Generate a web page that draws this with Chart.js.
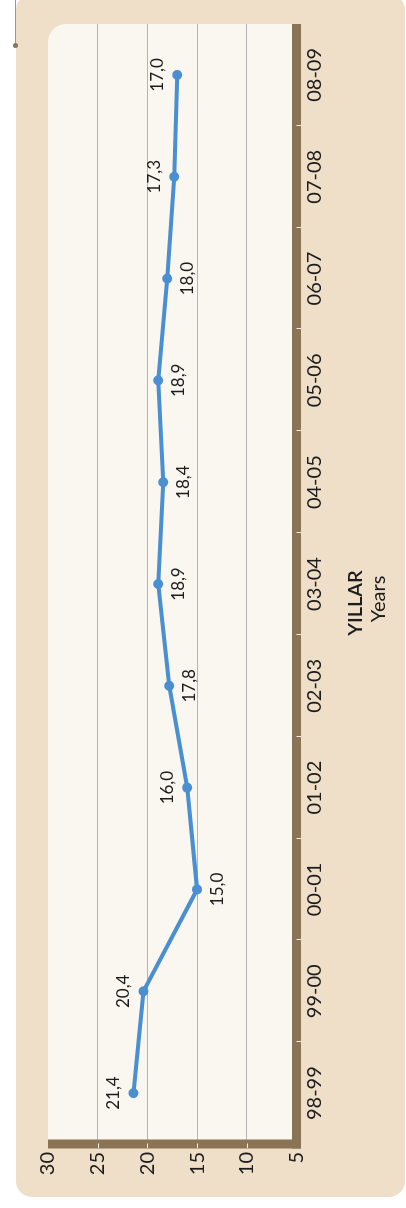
<!DOCTYPE html>
<html>
<head>
<meta charset="utf-8">
<script src="https://cdn.jsdelivr.net/npm/chart.js@4.4.1/dist/chart.umd.min.js"></script>
<style>
  html, body { margin: 0; padding: 0; background: #fff; width: 406px; height: 1208px; overflow: hidden; }
  #panel { position: absolute; left: 16px; top: -6px; width: 389px; height: 1203px; border-radius: 16px; background: #efdfc9; }
  #pin { position: absolute; left: 15px; top: 0; width: 1px; height: 45px; background: #9a9a9a; }
  #pinDot { position: absolute; left: 13px; top: 43px; width: 5px; height: 5px; border-radius: 50%; background: #8b7355; }
  /* chart is drawn landscape then turned a quarter counter-clockwise */
  #rot { position: absolute; left: 0; top: 0; width: 1208px; height: 406px; transform-origin: 0 0; transform: translate(0, 1208px) rotate(-90deg); }
</style>
</head>
<body>
<div id="panel"></div>
<div id="pin"></div>
<div id="pinDot"></div>
<div id="rot"><canvas id="chart" width="1208" height="406"></canvas></div>

<script>
// Data
const years = ['98-99', '99-00', '00-01', '01-02', '02-03', '03-04', '04-05', '05-06', '06-07', '07-08', '08-09'];
const ratios = [21.4, 20.4, 15.0, 16.0, 17.8, 18.9, 18.4, 18.9, 18.0, 17.3, 17.0];
const valueMin = 5;
const valueMax = 30;
const valueStep = 5;

// which side of the line each value label sits on
const labelAbove = [true, true, false, true, false, false, false, false, false, true, true];

const FONT = "Lato, 'Open Sans', sans-serif";
const BROWN = '#8b7355';
const BLUE = '#4a8fd1';
const INK = '#1c1c1c';

const framePlugin = {
  id: 'frame',
  beforeDraw(chart) {
    const { ctx, chartArea: a } = chart;
    ctx.save();
    ctx.fillStyle = '#faf7f1';
    ctx.beginPath();
    ctx.roundRect(a.left, a.top, a.right - a.left, a.bottom - a.top, [0, 18, 0, 0]);
    ctx.fill();
    ctx.restore();
  },
  beforeDatasetsDraw(chart) {
    const { ctx, chartArea: a, scales: { x, y } } = chart;
    ctx.save();
    ctx.fillStyle = BROWN;
    ctx.fillRect(a.left - 4.5, a.top, 9, a.bottom - a.top + 4.5);
    ctx.fillRect(a.left - 4.5, a.bottom - 4.5, a.right - a.left + 4.5, 9);

    // small white tick marks on the bars
    ctx.strokeStyle = '#f4ede3';
    ctx.lineWidth = 1;
    ctx.beginPath();
    for (let v = valueMin + valueStep; v < valueMax; v += valueStep) {
      const py = Math.round(y.getPixelForValue(v)) + 0.5;
      ctx.moveTo(a.left - 4, py);
      ctx.lineTo(a.left + 0.5, py);
    }
    for (let i = 1; i < years.length; i++) {
      const px = Math.round((x.getPixelForValue(i - 1) + x.getPixelForValue(i)) / 2) + 0.5;
      ctx.moveTo(px, a.bottom);
      ctx.lineTo(px, a.bottom + 4.5);
    }
    ctx.stroke();
    ctx.restore();
  },
  afterDatasetsDraw(chart) {
    const { ctx } = chart;
    const meta = chart.getDatasetMeta(0);
    ctx.save();
    ctx.fillStyle = INK;
    ctx.font = '17px ' + FONT;
    ctx.textAlign = 'center';
    ctx.textBaseline = 'middle';
    meta.data.forEach((pt, i) => {
      const text = ratios[i].toFixed(1).replace('.', ',');
      ctx.fillText(text, pt.x, pt.y + (labelAbove[i] ? -20 : 20));
    });

    // axis title
    ctx.font = '600 20px ' + FONT;
    ctx.fillText('YILLAR', 605, 356);
    ctx.font = '20px ' + FONT;
    ctx.fillText('Years', 609, 379);
    ctx.restore();
  }
};

new Chart(document.getElementById('chart'), {
  type: 'line',
  data: {
    labels: years,
    datasets: [{
      data: ratios,
      borderColor: BLUE,
      backgroundColor: BLUE,
      borderWidth: 4,
      pointRadius: 5,
      pointBorderWidth: 0,
      pointBackgroundColor: BLUE,
      tension: 0,
    }],
  },
  options: {
    responsive: false,
    animation: false,
    layout: { padding: { left: 0, right: 24, top: 48, bottom: 0 } },
    plugins: {
      legend: { display: false },
      tooltip: { enabled: false },
    },
    scales: {
      x: {
        type: 'category',
        offset: true,
        grid: { display: false, drawTicks: false },
        border: { display: false },
        ticks: {
          color: INK,
          font: { family: FONT, size: 20 },
          padding: 6,
          maxRotation: 0,
          autoSkip: false,
        },
        afterFit(scale) { scale.height = 109.5; },
      },
      y: {
        min: valueMin,
        max: valueMax,
        grid: {
          drawTicks: false,
          lineWidth: 1,
          color: (c) => (c.tick && c.tick.value > valueMin && c.tick.value < valueMax) ? '#b4b4b4' : 'rgba(0,0,0,0)',
        },
        border: { display: false },
        ticks: {
          stepSize: valueStep,
          color: INK,
          font: { family: FONT, size: 20 },
          padding: 8,
        },
        afterFit(scale) { scale.width = 64; },
      },
    },
  },
  plugins: [framePlugin],
});
</script>
</body>
</html>
